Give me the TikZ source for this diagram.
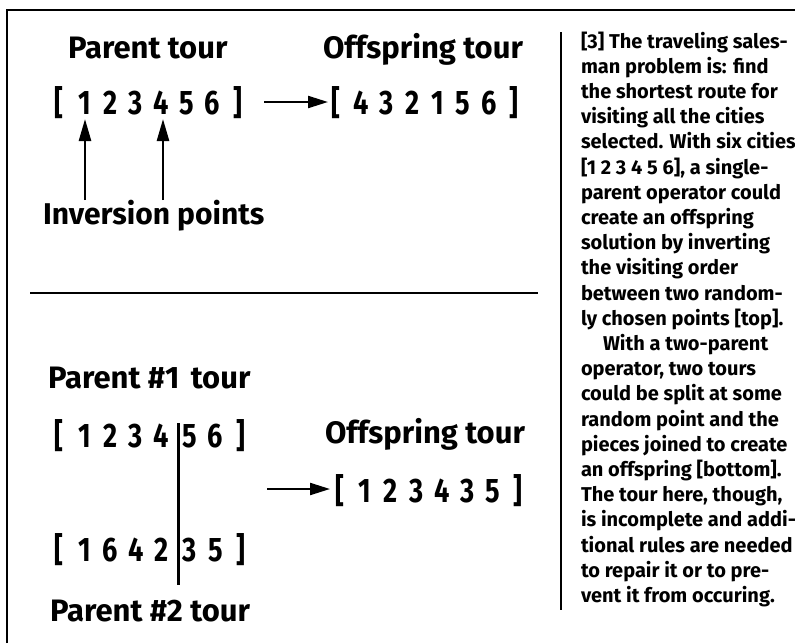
\documentclass[tikz,border=0pt]{standalone}
\usepackage{fontspec}
\usetikzlibrary{arrows.meta}
\setmainfont{Fira Sans}
\newfontfamily\hdfont{Fira Sans}
\newfontfamily\tourfont[FakeStretch=0.8]{Fira Sans}
\newcommand\tbx[1]{\makebox[25.5pt]{#1}}
\tikzset{
  every node/.style={inner sep=0pt, outer sep=0pt},
  heading/.style={font=\hdfont\bfseries\fontsize{31}{36}\selectfont, anchor=base west},
  tour/.style={font=\tourfont\bfseries\fontsize{34}{36}\selectfont, anchor=base west},
  capline/.style={font=\hdfont\bfseries\fontsize{20}{25}\selectfont, anchor=base west},
  rule/.style={line width=1.4pt},
  harr/.style={line width=2.2pt, -{Triangle[length=20pt,width=12pt]}},
  varr/.style={line width=2.5pt, -{Triangle[length=22pt,width=12pt]}},
}
\begin{document}
\begin{tikzpicture}[x=1pt,y=-1pt]
\useasboundingbox (0,0) rectangle (795,643);
% frame
\draw[rule] (7,643) -- (7,10) -- (795,10);
\draw[rule] (30,293) -- (538,293);
\draw[line width=1.2pt] (561,32) -- (561,610);

% top part
\node[heading] (pt) at (68,58) {Parent tour};
\node[heading] (ot) at (323,58) {Offspring tour};
\node[tour] (t1) at (46.6,114) {\tbx{[}\tbx{1}\tbx{2}\tbx{3}\tbx{4}\tbx{5}\tbx{6}\tbx{]}};
\node[tour] (t2) at (323,114) {\tbx{[}\tbx{4}\tbx{3}\tbx{2}\tbx{1}\tbx{5}\tbx{6}\tbx{]}};
\coordinate (a1s) at (264,102);
\coordinate (a1e) at (328,102);
\draw[harr] (a1s) -- (a1e);
\node[heading, font=\hdfont\bfseries\fontsize{30}{36}\selectfont] (ip) at (43,224) {Inversion points};
\coordinate (u1) at (85,200);
\coordinate (d1) at (85,119);
\coordinate (u2) at (163,200);
\coordinate (d2) at (163,119);
\draw[varr] (u1) -- (d1);
\draw[varr] (u2) -- (d2);

% bottom part
\node[heading] (p1) at (48,388) {Parent \#1\hspace{4pt} tour};
\node[tour] (b1) at (46.6,447) {\tbx{[}\tbx{1}\tbx{2}\tbx{3}\tbx{4}\hspace{3pt}\tbx{5}\tbx{6}\tbx{]}};
\node[tour] (b2) at (46.6,561) {\tbx{[}\tbx{1}\tbx{6}\tbx{4}\tbx{2}\hspace{3pt}\tbx{3}\tbx{5}\tbx{]}};
\node[heading] (p2) at (50,621) {Parent \#2 tour};
\coordinate (s1) at (178,423);
\coordinate (s2) at (178,585);
\draw[line width=3pt] (s1) -- (s2);
\node[heading] (ob) at (325,443) {Offspring tour};
\node[tour] (b3) at (327,502) {\tbx{[}\tbx{1}\tbx{2}\tbx{3}\tbx{4}\tbx{3}\tbx{5}\tbx{]}};
\coordinate (a2s) at (267,489);
\coordinate (a2e) at (330,489);
\draw[harr] (a2s) -- (a2e);

% caption
\node[capline] (c1) at (581,48.0) {[3] The traveling sales-};
\node[capline] (c2) at (581,73.2) {man problem is: find};
\node[capline] (c3) at (581,98.4) {the shortest route for};
\node[capline] (c4) at (581,123.6) {visiting all the cities};
\node[capline] (c5) at (581,148.8) {selected. With six cities};
\node[capline] (c6) at (581,174.0) {[1 2 3 4 5 6], a single-};
\node[capline] (c7) at (581,199.2) {parent operator could};
\node[capline] (c8) at (581,224.4) {create an offspring};
\node[capline] (c9) at (581,249.6) {solution by inverting};
\node[capline] (c10) at (581,274.8) {the visiting order};
\node[capline] (c11) at (581,300.0) {between two random-};
\node[capline] (c12) at (581,325.2) {ly chosen points [top].};
\node[capline] (c13) at (603,350.4) {With a two-parent};
\node[capline] (c14) at (581,375.6) {operator, two tours};
\node[capline] (c15) at (581,400.8) {could be split at some};
\node[capline] (c16) at (581,426.0) {random point and the};
\node[capline] (c17) at (581,451.2) {pieces joined to create};
\node[capline] (c18) at (581,476.4) {an offspring [bottom].};
\node[capline] (c19) at (581,501.6) {The tour here, though,};
\node[capline] (c20) at (581,526.8) {is incomplete and addi-};
\node[capline] (c21) at (581,552.0) {tional rules are needed};
\node[capline] (c22) at (581,577.2) {to repair it or to pre-};
\node[capline] (c23) at (581,602.4) {vent it from occuring.};
\end{tikzpicture}
\end{document}
